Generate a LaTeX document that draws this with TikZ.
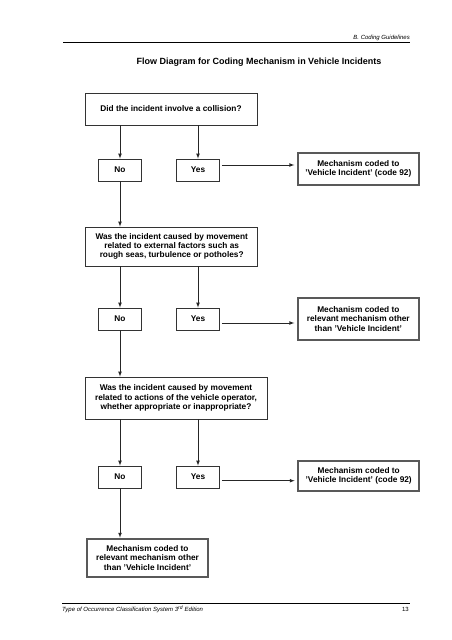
\documentclass[tikz,border=0pt]{standalone}
\usepackage{fontspec}
\setmainfont{Liberation Sans}
\usetikzlibrary{arrows}
\tikzstyle{arrow} = [draw=black!85,line width=0.7pt,->,>=latex]

\begin{document}
\begin{tikzpicture}
        [
            x=1pt,y=-1pt,
            qbox/.style={rectangle,draw=black!80,line width=0.8pt,inner sep=0pt,align=center,
                font=\fontsize{8.3}{9.3}\selectfont\bfseries},
            ansbox/.style={qbox,minimum width=43pt,minimum height=22pt},
            mechbox/.style={qbox,draw=black!65,line width=2pt,minimum width=121pt},
            pagetext/.style={inner sep=0pt,font=\fontsize{6}{7}\selectfont\itshape},
        ]
    \useasboundingbox (0,0) rectangle (452,640);

    % page header and footer
    \draw[black,line width=0.8pt] (63,42) -- (410,42);
    \node[pagetext,anchor=south east] (head) at (410,40.5) {B. Coding Guidelines};
    \node[font=\fontsize{9}{11}\selectfont\bfseries] (title) at (259,62)
        {Flow Diagram for Coding Mechanism in Vehicle Incidents};
    \draw[black,line width=0.8pt] (62,603.7) -- (410,603.7);
    \node[pagetext,anchor=west] (foot) at (62,609.5)
        {Type of Occurrence Classification System 3\textsuperscript{rd} Edition};
    \node[pagetext,font=\fontsize{6}{7}\selectfont,anchor=east] (page) at (409,609.5) {13};

    % questions
    \node[qbox,minimum width=172pt,minimum height=32pt] (q1) at (171,109)
        {Did the incident involve a collision?};
    \node[qbox,minimum width=172pt,minimum height=39pt] (q2) at (171.7,246.5)
        {Was the incident caused by movement\\related to external factors such as\\rough seas, turbulence or potholes?};
    \node[qbox,minimum width=182pt,minimum height=42pt] (q3) at (176,398)
        {Was the incident caused by movement\\related to actions of the vehicle operator,\\whether appropriate or inappropriate?};

    % answers
    \node[ansbox] (no1)  at (120,170) {No};
    \node[ansbox] (yes1) at (198,170) {Yes};
    \node[ansbox] (no2)  at (120,319) {No};
    \node[ansbox] (yes2) at (198,319) {Yes};
    \node[ansbox] (no3)  at (120,477) {No};
    \node[ansbox] (yes3) at (198,477) {Yes};

    % outcomes
    \node[mechbox,minimum height=31.4pt] (mech1) at (358.3,169)
        {Mechanism coded to\\'Vehicle Incident' (code 92)};
    \node[mechbox,minimum height=42.6pt] (mech2) at (358.3,319)
        {Mechanism coded to\\relevant mechanism other\\than 'Vehicle Incident'};
    \node[mechbox,minimum height=30.3pt] (mech3) at (358.7,476)
        {Mechanism coded to\\'Vehicle Incident' (code 92)};
    \node[mechbox,minimum height=38.6pt] (mech4) at (147.5,558)
        {Mechanism coded to\\relevant mechanism other\\than 'Vehicle Incident'};

    % connectors
    \draw[arrow] (q1.south -| no1.north) -- (no1.north);
    \draw[arrow] (q1.south -| yes1.north) -- (yes1.north);
    \draw[arrow] (no1.south) -- (q2.north -| no1.south);
    \draw[arrow] (q2.south -| no2.north) -- (no2.north);
    \draw[arrow] (q2.south -| yes2.north) -- (yes2.north);
    \draw[arrow] (no2.south) -- (q3.north -| no2.south);
    \draw[arrow] (q3.south -| no3.north) -- (no3.north);
    \draw[arrow] (q3.south -| yes3.north) -- (yes3.north);
    \draw[arrow] (no3.south) -- (mech4.north -| no3.south);
    \draw[arrow,shorten <=2pt,shorten >=2.5pt] ([yshift=5pt]yes1.east) -- ([yshift=4pt]mech1.west);
    \draw[arrow,shorten <=2pt,shorten >=2.5pt] ([yshift=-4pt]yes2.east) -- ([yshift=-4pt]mech2.west);
    \draw[arrow,shorten <=2pt,shorten >=2.5pt] ([yshift=-3.7pt]yes3.east) -- ([yshift=-4.7pt]mech3.west);
\end{tikzpicture}
\end{document}
